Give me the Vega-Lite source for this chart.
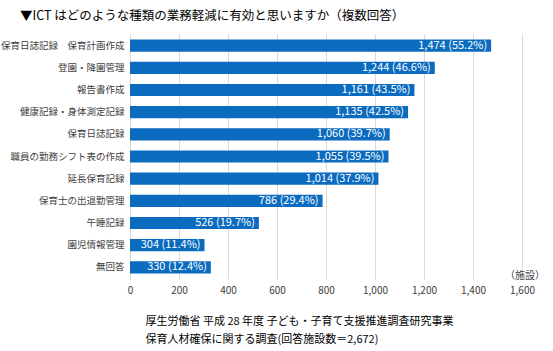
{
  "$schema": "https://vega.github.io/schema/vega-lite/v6.json",
  "autosize": "none",
  "width": 392,
  "height": 245,
  "padding": {"left": 130, "top": 34, "right": 31, "bottom": 72},
  "background": "white",
  "config": {
    "font": "Noto Sans CJK JP",
    "view": {"stroke": null}
  },
  "title": {
    "text": "▼ICT はどのような種類の業務軽減に有効と思いますか（複数回答）",
    "anchor": "start",
    "frame": "group",
    "dx": -110,
    "offset": 12,
    "fontSize": 12.5,
    "fontWeight": "normal",
    "color": "#000000"
  },
  "data": {
    "values": [
      {"item": "保育日誌記録　保育計画作成", "count": 1474, "label": "1,474 (55.2%)"},
      {"item": "登園・降園管理", "count": 1244, "label": "1,244 (46.6%)"},
      {"item": "報告書作成", "count": 1161, "label": "1,161 (43.5%)"},
      {"item": "健康記録・身体測定記録", "count": 1135, "label": "1,135 (42.5%)"},
      {"item": "保育日誌記録", "count": 1060, "label": "1,060 (39.7%)"},
      {"item": "職員の勤務シフト表の作成", "count": 1055, "label": "1,055 (39.5%)"},
      {"item": "延長保育記録", "count": 1014, "label": "1,014 (37.9%)"},
      {"item": "保育士の出退勤管理", "count": 786, "label": "786 (29.4%)"},
      {"item": "午睡記録", "count": 526, "label": "526 (19.7%)"},
      {"item": "園児情報管理", "count": 304, "label": "304 (11.4%)"},
      {"item": "無回答", "count": 330, "label": "330 (12.4%)"}
    ]
  },
  "encoding": {
    "y": {
      "field": "item",
      "type": "nominal",
      "sort": null,
      "scale": {"paddingInner": 0.45, "paddingOuter": 0.25},
      "axis": {
        "title": null,
        "domain": false,
        "ticks": false,
        "labelPadding": 6,
        "labelFontSize": 9.5,
        "labelColor": "#404040"
      }
    }
  },
  "layer": [
    {
      "mark": {"type": "bar", "color": "#0A6BBF"},
      "encoding": {
        "x": {
          "field": "count",
          "type": "quantitative",
          "scale": {"domain": [0, 1600]},
          "axis": {
            "values": [0, 200, 400, 600, 800, 1000, 1200, 1400, 1600],
            "format": ",d",
            "domain": false,
            "ticks": false,
            "grid": true,
            "gridColor": "#d9d9d9",
            "labelFlush": false,
            "labelPadding": 6,
            "labelFontSize": 10,
            "labelColor": "#404040",
            "title": ["厚生労働省 平成 28 年度 子ども・子育て支援推進調査研究事業", "保育人材確保に関する調査(回答施設数＝2,672)"],
            "titleAnchor": "start",
            "titleAlign": "left",
            "titleX": 15,
            "titleY": 36,
            "titleFontSize": 11,
            "titleFontWeight": "normal",
            "titleColor": "#000000",
            "titleLineHeight": 18
          }
        }
      }
    },
    {
      "mark": {"type": "text", "align": "right", "dx": -4, "color": "white", "fontSize": 11},
      "encoding": {
        "x": {"field": "count", "type": "quantitative"},
        "text": {"field": "label"}
      }
    },
    {
      "data": {"values": [{"unit": "（施設）", "pos": 1612, "row": "無回答"}]},
      "mark": {"type": "text", "align": "center", "dy": 9, "color": "#404040", "fontSize": 10},
      "encoding": {
        "x": {"field": "pos", "type": "quantitative"},
        "y": {"field": "row", "type": "nominal", "sort": null},
        "text": {"field": "unit"}
      }
    }
  ]
}
